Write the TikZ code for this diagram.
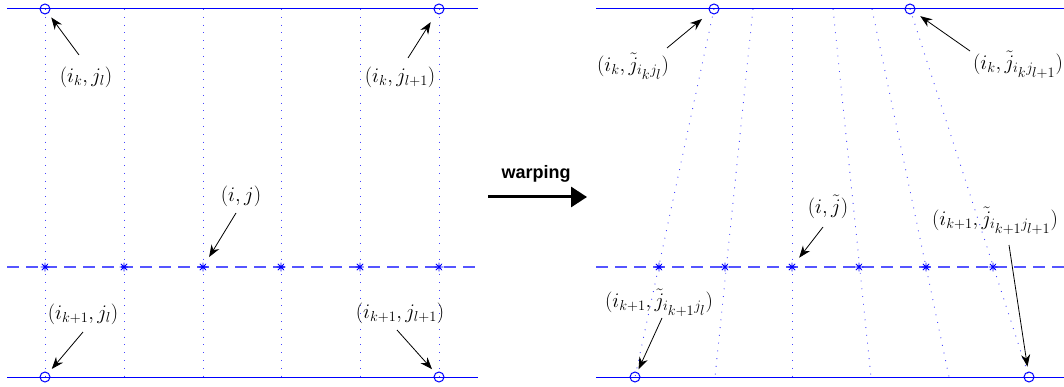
\documentclass[tikz,border=0pt]{standalone}
\usepackage{fontspec}
\newfontfamily\warpfont{Liberation Sans}
\DeclareMathSizes{20}{20}{14.4}{14.4}
\usetikzlibrary{arrows.meta,calc}
\definecolor{dotblue}{RGB}{70,70,255}
\definecolor{dashblue}{RGB}{85,85,255}
\begin{document}
\begin{tikzpicture}[x=1pt,y=-1pt,
  gridline/.style={blue, line width=1pt},
  dotline/.style={dotblue, line width=0.9pt, dash pattern=on 0.9pt off 6.9pt},
  dashline/.style={dashblue, line width=1.3pt, dash pattern=on 12pt off 7pt},
  ring/.style={circle, draw=blue, line width=1pt, minimum size=10pt, inner sep=0pt},
  starmark/.style={circle, minimum size=9pt, inner sep=0pt,
    path picture={\draw[blue, line width=0.9pt]
      (path picture bounding box.north) -- (path picture bounding box.south)
      (path picture bounding box.east) -- (path picture bounding box.west)
      (path picture bounding box.north east) -- (path picture bounding box.south west)
      (path picture bounding box.north west) -- (path picture bounding box.south east);}},
  lbl/.style={font=\fontsize{20}{24}\selectfont, inner sep=1pt},
  arr/.style={-{Stealth[length=12pt,width=9pt]}, line width=0.8pt, black, shorten >=5pt},
  warplabel/.style={font=\warpfont\bfseries\fontsize{18}{20}\selectfont, inner sep=0pt}]
\useasboundingbox (0,0) rectangle (1064,387);

% ---------- left panel ----------
\foreach \x in {45,124,203,281,360,439}{\draw[dotline] (\x,9) -- (\x,377);}
\draw[gridline] (7,9) -- (478,9);
\draw[gridline] (7,377) -- (478,377);
\draw[dashline] (7,267) -- (478,267);

\node[ring] (c1) at (45,9) {};
\node[ring] (c2) at (439,9) {};
\node[ring] (c3) at (45,377) {};
\node[ring] (c4) at (439,377) {};
\node[starmark] (s1) at (45,267) {};
\node[starmark] (s2) at (124,267) {};
\node[starmark] (s3) at (203,267) {};
\node[starmark] (s4) at (281,267) {};
\node[starmark] (s5) at (360,267) {};
\node[starmark] (s6) at (439,267) {};

\node[lbl] (L1) at (86,77) {$(i_k,j_l)$};
\node[lbl] (L2) at (400,77) {$(i_k,j_{l+1})$};
\node[lbl] (L3) at (241,196) {$(i,j)$};
\node[lbl] (L4) at (83,314) {$(i_{k+1},j_l)$};
\node[lbl] (L5) at (400,313) {$(i_{k+1},j_{l+1})$};

\draw[arr] ($(L1)+(-7,-22)$) -- (c1);
\draw[arr, shorten >=10pt] ($(L2)+(8,-19)$) -- (c2);
\draw[arr, shorten >=7pt] ($(L3)+(-5,17)$) -- (s3);
\draw[arr] ($(L4)+(0,18)$) -- (c3);
\draw[arr] ($(L5)+(-3,17)$) -- (c4);

% ---------- warping arrow ----------
\node[warplabel] (w) at (536,174) {warping};
\coordinate (wa) at (488,197);
\coordinate (wb) at (587,197);
\draw[line width=3pt, -{Triangle[length=16pt,width=20pt]}] (wa) -- (wb);

% ---------- right panel ----------
\draw[dotline] (714,9) -- (635,377);
\draw[dotline] (753,9) -- (715,377);
\draw[dotline] (792,9) -- (792,377);
\draw[dotline] (833,9) -- (871,377);
\draw[dotline] (872,9) -- (949,377);
\draw[dotline] (910,9) -- (1029,377);
\draw[gridline] (596,9) -- (1064,9);
\draw[gridline] (596,377) -- (1064,377);
\draw[dashline] (596,267) -- (1064,267);

\node[ring] (d1) at (714,9) {};
\node[ring] (d2) at (910,9) {};
\node[ring] (d3) at (635,377) {};
\node[ring] (d4) at (1029,377) {};
\node[starmark] (t1) at (659,267) {};
\node[starmark] (t2) at (725,267) {};
\node[starmark] (t3) at (792,267) {};
\node[starmark] (t4) at (859,267) {};
\node[starmark] (t5) at (926,267) {};
\node[starmark] (t6) at (993,267) {};

\node[lbl] (R1) at (633,66) {$(i_k,\tilde{j}_{i_kj_l})$};
\node[lbl] (R2) at (1018,65) {$(i_k,\tilde{j}_{i_kj_{l+1}})$};
\node[lbl] (R3) at (828,207) {$(i,\tilde{j})$};
\node[lbl] (R4) at (659,303) {$(i_{k+1},\tilde{j}_{i_{k+1}j_l})$};
\node[lbl] (R5) at (995,221) {$(i_{k+1},\tilde{j}_{i_{k+1}j_{l+1}})$};

\draw[arr, shorten >=10pt] ($(R1)+(34,-18)$) -- (d1);
\draw[arr, shorten >=7pt] ($(R2)+(-48,-14)$) -- (d2);
\draw[arr, shorten >=7pt] ($(R3)+(-5,20)$) -- (t3);
\draw[arr, shorten >=3pt] ($(R4)+(3,15)$) -- (d3);
\draw[arr] ($(R5)+(14,24)$) -- (d4);
\end{tikzpicture}
\end{document}
